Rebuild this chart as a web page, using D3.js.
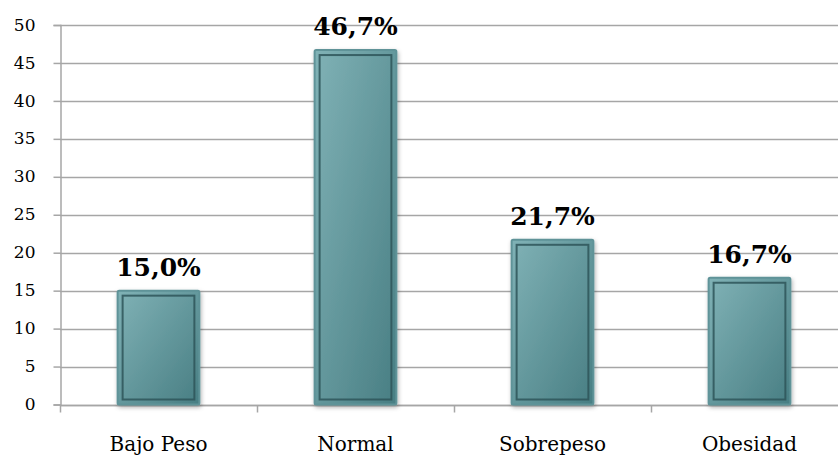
<!DOCTYPE html>
<html>
<head>
<meta charset="utf-8">
<script src="https://cdn.jsdelivr.net/npm/d3@7"></script>
<style>
  html, body { margin: 0; padding: 0; background: #fff; }
  svg { display: block; }
</style>
</head>
<body>
<svg id="chart" width="838" height="460"></svg>
<script>
// Distribución por estado nutricional (%)
const categories = ["Bajo Peso", "Normal", "Sobrepeso", "Obesidad"];
const values = [15.0, 46.7, 21.7, 16.7];
const yTicks = [0, 5, 10, 15, 20, 25, 30, 35, 40, 45, 50];

const FONT = "Georgia, 'DejaVu Serif', serif";
const svg = d3.select("#chart");
const margin = { left: 60, top: 25, bottom: 55.5 };
const plotRight = 848;
const height = 460;

const x = d3.scaleBand()
  .domain(categories)
  .range([margin.left, plotRight])
  .paddingInner(0.585)
  .paddingOuter(0.2925);

const y = d3.scaleLinear()
  .domain([0, 50])
  .range([height - margin.bottom, margin.top]);

const defs = svg.append("defs");
const grad = defs.append("linearGradient")
  .attr("id", "barFill")
  .attr("x1", "0%").attr("y1", "0%")
  .attr("x2", "100%").attr("y2", "100%");
grad.append("stop").attr("offset", "0%").attr("stop-color", "#80b2b6");
grad.append("stop").attr("offset", "100%").attr("stop-color", "#487e83");

const shadow = defs.append("filter").attr("id", "shadow")
  .attr("x", "-20%").attr("y", "-20%").attr("width", "140%").attr("height", "140%");
shadow.append("feDropShadow")
  .attr("dx", 1).attr("dy", 2).attr("stdDeviation", 2)
  .attr("flood-color", "#000").attr("flood-opacity", 0.3);

// Horizontal gridlines
svg.append("g")
  .selectAll("line")
  .data(yTicks)
  .join("line")
  .attr("x1", margin.left)
  .attr("x2", 838)
  .attr("y1", d => Math.round(y(d)) + 0.5)
  .attr("y2", d => Math.round(y(d)) + 0.5)
  .attr("stroke", "#a6a6a6")
  .attr("stroke-width", 1.5);

// Y axis
const yAxis = svg.append("g")
  .attr("transform", `translate(${margin.left + 0.5},0)`)
  .call(d3.axisLeft(y).tickValues(yTicks).tickSize(7).tickPadding(18).tickFormat(d3.format("d")));
yAxis.attr("font-family", FONT).attr("font-size", 17);
yAxis.select(".domain").attr("stroke", "#a6a6a6").attr("stroke-width", 1.5);
yAxis.selectAll(".tick line").attr("stroke", "#a6a6a6").attr("stroke-width", 1.5);
yAxis.selectAll(".tick text")
  .attr("fill", "#000")
  .attr("dy", "0.3em");

// X axis with boundary ticks between categories
const step = x.step();
const boundaries = d3.range(categories.length).map(i => margin.left + i * step);
const xAxisG = svg.append("g")
  .attr("transform", `translate(0,${Math.round(y(0)) + 0.5})`);
xAxisG.append("line")
  .attr("x1", margin.left).attr("x2", 838)
  .attr("stroke", "#a6a6a6").attr("stroke-width", 1.5);
xAxisG.selectAll("line.btick")
  .data(boundaries)
  .join("line")
  .attr("class", "btick")
  .attr("x1", d => Math.round(d) + 0.5)
  .attr("x2", d => Math.round(d) + 0.5)
  .attr("y1", 0).attr("y2", 7)
  .attr("stroke", "#a6a6a6").attr("stroke-width", 1.5);
xAxisG.selectAll("text")
  .data(categories)
  .join("text")
  .attr("x", d => x(d) + x.bandwidth() / 2)
  .attr("y", 45)
  .attr("text-anchor", "middle")
  .attr("font-family", FONT)
  .attr("font-size", 20)
  .attr("fill", "#000")
  .text(d => d);

// Bars
const bars = svg.append("g")
  .selectAll("g")
  .data(categories.map((c, i) => ({ c, v: values[i] })))
  .join("g");

bars.append("rect")
  .attr("x", d => x(d.c))
  .attr("y", d => y(d.v))
  .attr("width", x.bandwidth())
  .attr("height", d => y(0) - y(d.v))
  .attr("fill", "url(#barFill)")
  .attr("stroke", "#5f9398")
  .attr("stroke-width", 2)
  .attr("rx", 1.5)
  .attr("filter", "url(#shadow)");

bars.append("rect")
  .attr("x", d => x(d.c) + 5)
  .attr("y", d => y(d.v) + 5)
  .attr("width", x.bandwidth() - 10)
  .attr("height", d => y(0) - y(d.v) - 10)
  .attr("fill", "none")
  .attr("stroke", "#2e5559")
  .attr("stroke-width", 2)
  .attr("stroke-opacity", 0.85);

// Value labels
bars.append("text")
  .attr("x", d => x(d.c) + x.bandwidth() / 2)
  .attr("y", d => y(d.v) - 15)
  .attr("text-anchor", "middle")
  .attr("font-family", FONT)
  .attr("font-weight", "bold")
  .attr("font-size", 25)
  .attr("fill", "#000")
  .text(d => d3.format(".1f")(d.v).replace(".", ",") + "%");
</script>
</body>
</html>
